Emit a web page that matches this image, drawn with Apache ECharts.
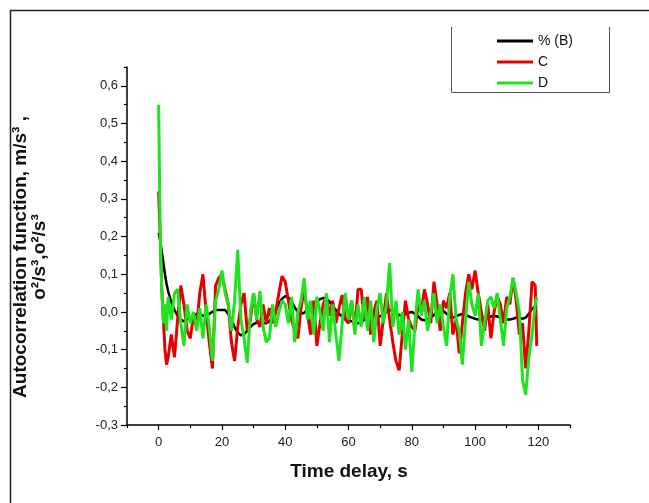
<!DOCTYPE html>
<html><head><meta charset="utf-8">
<script src="https://cdn.jsdelivr.net/npm/echarts@6/dist/echarts.min.js"></script>
<style>html,body{margin:0;padding:0;background:#fff}#c{width:649px;height:503px}</style>
</head><body><div id="c"></div><script>
// Time delay, s
const times = [0,0.5,1,1.5,2,2.5,3,
 4,5,6,7,8,9,10,11,12,13,
 14,15,16,17,18,19,20,21,22,23,
 24,25,26,27,28,29,30,31,32,33,
 34,35,36,37,38,39,40,41,42,43,
 44,45,46,47,48,49,50,51,52,53,
 54,55,56,57,58,59,60,61,62,63,
 64,65,66,67,68,69,70,71,72,73,
 74,75,76,77,78,79,80,81,82,83,
 84,85,86,87,88,89,90,91,92,93,
 94,95,96,97,98,99,100,101,102,103,
 104,105,106,107,108,109,110,111,112,113,
 114,115,116,117,118,119,119.5];

const seriesB = [0.21,0.19,0.16,0.13,0.10,0.075,0.055,
 0.025,0.005,-0.01,-0.02,-0.025,-0.02,-0.015,-0.01,-0.005,-0.005,
 -0.01,-0.01,-0.005,0,0.005,0.005,0.005,0.005,-0.005,-0.02,
 -0.04,-0.055,-0.062,-0.06,-0.05,-0.04,-0.032,-0.028,-0.028,-0.03,
 -0.03,-0.025,-0.012,0.005,0.022,0.035,0.042,0.038,0.028,0.012,
 0,-0.005,-0.002,0.005,0.012,0.02,0.028,0.034,0.037,0.035,
 0.027,0.015,0.005,-0.005,-0.012,-0.018,-0.022,-0.025,-0.025,-0.03,
 -0.028,-0.02,-0.01,-0.005,-0.005,-0.01,-0.012,-0.008,0,0.005,
 0.003,-0.003,-0.008,-0.01,-0.006,-0.002,0,-0.005,-0.012,-0.02,
 -0.022,-0.02,-0.015,-0.008,0,0.005,0.003,-0.005,-0.012,-0.015,
 -0.012,-0.008,-0.005,-0.008,-0.012,-0.015,-0.018,-0.02,-0.02,-0.018,
 -0.015,-0.012,-0.01,-0.012,-0.015,-0.018,-0.02,-0.02,-0.018,-0.015,
 -0.015,-0.018,-0.015,-0.005,0.008,0.015,0.018];

const seriesC = [0.32,0.20,0.06,-0.02,-0.10,-0.14,-0.12,
 -0.06,-0.12,-0.02,0.07,0.02,-0.05,-0.07,-0.01,-0.04,0.05,
 0.10,0,-0.08,-0.15,0.07,0.09,0.10,0.06,0.02,-0.08,
 -0.13,-0.04,0.02,0.05,-0.05,-0.02,0.05,-0.02,-0.04,0.02,
 -0.03,0.01,-0.03,0,0.05,0.095,0.08,0.03,-0.02,-0.05,
 -0.07,0.01,0.06,0,-0.06,0.03,-0.09,-0.03,0.02,0.04,
 -0.01,0.03,-0.03,0.01,0.045,-0.02,-0.03,0.03,-0.05,0.06,
 0.06,-0.02,0.04,-0.06,0,0.03,-0.09,-0.02,0.05,-0.02,
 -0.08,-0.13,-0.155,-0.06,0.03,-0.02,-0.04,-0.05,0.02,0,
 0.06,0.02,-0.03,0.08,0.02,-0.05,0.03,0.01,0.05,-0.06,
 -0.02,-0.11,-0.03,0.05,0.10,0.06,0.11,0.05,0,-0.05,
 0.02,-0.07,0,0.04,0.02,-0.03,0.04,0.02,0.09,0.03,
 -0.06,-0.03,-0.15,-0.05,0.08,0.07,-0.09];

const seriesD = [0.55,0.20,0.05,-0.03,0.02,-0.05,0.04,
 -0.02,0.05,0.06,-0.03,-0.09,0.02,-0.03,0,-0.05,0.01,
 -0.07,0.02,-0.04,-0.13,0.03,0.06,0.11,0.05,0.02,-0.05,
 0.03,0.165,-0.02,-0.07,-0.135,0,0.05,-0.02,0.055,-0.04,
 -0.08,-0.07,0.02,-0.04,0,0.03,0.02,-0.03,0.04,-0.08,
 0,0.03,0.09,-0.02,0.03,-0.06,0.04,0,-0.05,0.05,
 -0.08,0.02,-0.06,-0.13,-0.03,0.05,-0.02,0.03,-0.06,0.02,
 -0.04,0.04,-0.05,0.03,-0.08,0.01,0.05,-0.03,0.02,0.13,
 -0.04,0.03,-0.06,0,-0.10,-0.02,-0.16,-0.03,0.06,-0.01,
 0.03,-0.05,0,0.05,-0.03,0.02,-0.04,-0.09,0.04,0.10,
 -0.02,-0.05,-0.14,-0.02,0.08,0.02,-0.01,0.05,-0.09,-0.03,
 0.03,0.04,0.01,0.05,-0.02,-0.09,0.01,0.04,0.09,0.05,
 0,-0.18,-0.22,-0.12,-0.06,0.02,0.04];

const seriesNames = ['% (B)', 'C', 'D'];
const xMajor = [0,20,40,60,80,100,120];
const xMinor = [-10,10,30,50,70,90,110,130];
const yMajor = [-0.3,-0.2,-0.1,0,0.1,0.2,0.3,0.4,0.5,0.6];
const yMinor = [-0.25,-0.15,-0.05,0.05,0.15,0.25,0.35,0.45,0.55,0.65];

const FONT = 'Liberation Sans, Arial, sans-serif';
const chart = echarts.init(document.getElementById('c'), null, {renderer:'canvas'});
const fmt = v => (Math.round(v*10)/10).toFixed(1).replace('.', ',');
const pair = arr => times.map((t,i)=>[t, arr[i]]);
const axLine = {show:true, onZero:false, lineStyle:{color:'#000', width:1.5}};

chart.setOption({
  animation:false,
  backgroundColor:'#fff',
  grid:{left:127, right:79, top:67, bottom:78},
  legend:{
    data:seriesNames, orient:'vertical', left:497, top:33, padding:0,
    icon:'rect', itemWidth:36, itemHeight:3, itemGap:5,
    textStyle:{fontSize:14, color:'#111', fontFamily:FONT, lineHeight:16}
  },
  xAxis:[
    {type:'value', min:-10, max:130, position:'bottom',
     axisLine:axLine,
     axisTick:{show:true, customValues:xMajor, length:5, lineStyle:{color:'#000', width:1.2}},
     axisLabel:{customValues:xMajor, margin:11, color:'#222', fontSize:13, fontFamily:FONT},
     splitLine:{show:false}},
    {type:'value', min:-10, max:130, position:'bottom',
     axisLine:{show:false, onZero:false},
     axisTick:{show:true, customValues:xMinor, length:3, lineStyle:{color:'#000', width:1.2}},
     axisLabel:{show:false}, splitLine:{show:false}}
  ],
  yAxis:[
    {type:'value', min:-0.3, max:0.65, position:'left',
     axisLine:axLine,
     axisTick:{show:true, customValues:yMajor, length:6, lineStyle:{color:'#000', width:1.2}},
     axisLabel:{customValues:yMajor, formatter:fmt, margin:9, color:'#222', fontSize:13, fontFamily:FONT},
     splitLine:{show:false}},
    {type:'value', min:-0.3, max:0.65, position:'left',
     axisLine:{show:false, onZero:false},
     axisTick:{show:true, customValues:yMinor, length:3, lineStyle:{color:'#000', width:1.2}},
     axisLabel:{show:false}, splitLine:{show:false}}
  ],
  series:[
    {name:seriesNames[0], type:'line', data:pair(seriesB), showSymbol:false, symbol:'none',
     color:'#000', lineStyle:{width:2.5, color:'#000'}, z:2},
    {name:seriesNames[1], type:'line', data:pair(seriesC), showSymbol:false, symbol:'none',
     color:'#e40000', lineStyle:{width:3, color:'#e40000'}, z:3},
    {name:seriesNames[2], type:'line', data:pair(seriesD), showSymbol:false, symbol:'none',
     color:'#1ee41e', lineStyle:{width:3, color:'#1ee41e'}, z:4}
  ],
  graphic:[
    {type:'polyline', silent:true, shape:{points:[[10.5,503],[10.5,10.5],[649,10.5]]},
     style:{stroke:'#222', lineWidth:1.5, fill:null}},
    {type:'polyline', silent:true, shape:{points:[[451.5,27],[451.5,92.5],[609.5,92.5],[609.5,27]]},
     style:{stroke:'#555', lineWidth:1, fill:null}},
    {type:'text', silent:true, x:349, y:472,
     style:{text:'Time delay, s', font:'bold 19px '+FONT, fill:'#111', textAlign:'center', textVerticalAlign:'middle'}},
    {type:'text', silent:true, x:21, y:257, rotation:Math.PI/2,
     style:{text:'Autocorrelation function, m/s³ ,', font:'bold 19px '+FONT, fill:'#111', textAlign:'center', textVerticalAlign:'middle'}},
    {type:'text', silent:true, x:40, y:257, rotation:Math.PI/2,
     style:{text:'o²/s³,o²/s³', font:'bold 19px '+FONT, fill:'#111', textAlign:'center', textVerticalAlign:'middle'}}
  ]
});
</script></body></html>
